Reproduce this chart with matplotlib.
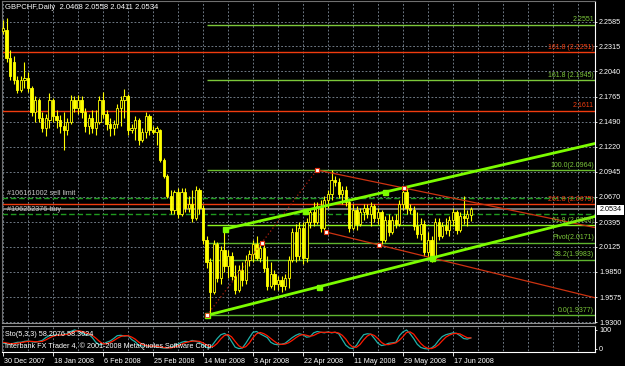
import numpy as np
import matplotlib.pyplot as plt
from matplotlib.patches import Rectangle
from matplotlib.transforms import blended_transform_factory, ScaledTranslation

plt.rcParams['font.family'] = ['Liberation Sans', 'DejaVu Sans']

# GBPCHF daily bars
opens = [2.2481, 2.2492, 2.2187, 2.2143, 2.1946, 2.1837, 2.1946, 2.1968, 2.1859, 2.1597,
         2.1728, 2.1531, 2.1422, 2.1510, 2.1728, 2.1553, 2.1510, 2.1444, 2.1400, 2.1488,
         2.1728, 2.1641, 2.1728, 2.1597, 2.1444, 2.1531, 2.1422, 2.1488, 2.1728, 2.1575,
         2.1466, 2.1422, 2.1466, 2.1641, 2.1728, 2.1772, 2.1400, 2.1422, 2.1510, 2.1291,
         2.1379, 2.1553, 2.1400, 2.1379, 2.1400, 2.1073, 2.0898, 2.0680, 2.0527, 2.0723,
         2.0483, 2.0723, 2.0549, 2.0592, 2.0439, 2.0745, 2.0549, 2.0199, 1.9959, 1.9631,
         2.0156, 1.9784, 2.0090, 1.9915, 2.0025, 1.9806, 1.9653, 1.9872, 1.9762, 1.9981,
         2.0046, 2.0156, 2.0003, 2.0112, 1.9893, 1.9697, 1.9828, 1.9719, 1.9762, 1.9697,
         1.9784, 1.9981, 2.0287, 2.0025, 2.0330, 2.0003, 2.0396, 2.0505, 2.0396, 2.0570,
         2.0330, 2.0636, 2.0702, 2.0854, 2.0833, 2.0702, 2.0745, 2.0614, 2.0330, 2.0527,
         2.0374, 2.0505, 2.0549, 2.0483, 2.0570, 2.0439, 2.0505, 2.0199, 2.0418, 2.0287,
         2.0418, 2.0374, 2.0592, 2.0723, 2.0549, 2.0527, 2.0352, 2.0265, 2.0374, 2.0068,
         2.0199, 2.0003, 2.0396, 2.0243, 2.0352, 2.0308, 2.0418, 2.0505, 2.0308, 2.0461,
         2.0439, 2.0468]
highs = [2.2602, 2.2623, 2.2274, 2.2208, 2.1990, 2.1990, 2.2143, 2.2034, 2.1881, 2.1772,
         2.1750, 2.1597, 2.1575, 2.1804, 2.1750, 2.1619, 2.1564, 2.1597, 2.1531, 2.1783,
         2.1772, 2.1783, 2.1772, 2.1641, 2.1575, 2.1619, 2.1619, 2.1772, 2.1815, 2.1619,
         2.1531, 2.1510, 2.1684, 2.1772, 2.1848, 2.1794, 2.1466, 2.1553, 2.1531, 2.1422,
         2.1597, 2.1575, 2.1444, 2.1444, 2.1411, 2.1095, 2.0920, 2.0745, 2.0745, 2.0767,
         2.0767, 2.0767, 2.0680, 2.0745, 2.0789, 2.0767, 2.0581, 2.0243, 2.0003, 2.0199,
         2.0177, 2.0134, 2.0287, 2.0090, 2.0068, 1.9926, 1.9926, 1.9959, 2.0035, 2.0090,
         2.0199, 2.0243, 2.0177, 2.0156, 2.0025, 1.9959, 1.9872, 1.9806, 1.9806, 1.9828,
         2.0025, 2.0330, 2.0374, 2.0396, 2.0396, 2.0439, 2.0549, 2.0614, 2.0614, 2.0636,
         2.0680, 2.0745, 2.0964, 2.0898, 2.0876, 2.0789, 2.0789, 2.0636, 2.0592, 2.0570,
         2.0549, 2.0592, 2.0592, 2.0614, 2.0592, 2.0549, 2.0527, 2.0461, 2.0483, 2.0461,
         2.0483, 2.0636, 2.0789, 2.0767, 2.0592, 2.0570, 2.0505, 2.0439, 2.0418, 2.0287,
         2.0243, 2.0439, 2.0439, 2.0396, 2.0439, 2.0461, 2.0549, 2.0527, 2.0505, 2.0680,
         2.0527, 2.0558]
lows = [2.2449, 2.2143, 2.1946, 2.1903, 2.1804, 2.1815, 2.1859, 2.1815, 2.1553, 2.1488,
        2.1488, 2.1379, 2.1335, 2.1422, 2.1488, 2.1422, 2.1368, 2.1182, 2.1346, 2.1466,
        2.1597, 2.1575, 2.1531, 2.1379, 2.1357, 2.1368, 2.1346, 2.1466, 2.1531, 2.1400,
        2.1335, 2.1346, 2.1422, 2.1444, 2.1531, 2.1346, 2.1368, 2.1291, 2.1237, 2.1269,
        2.1313, 2.1346, 2.1357, 2.1237, 2.1051, 2.0876, 2.0658, 2.0483, 2.0483, 2.0439,
        2.0461, 2.0505, 2.0505, 2.0396, 2.0418, 2.0483, 2.0156, 1.9893, 1.9377, 1.9610,
        1.9741, 1.9719, 1.9850, 1.9784, 1.9762, 1.9610, 1.9631, 1.9697, 1.9719, 1.9915,
        1.9959, 1.9981, 1.9959, 1.9850, 1.9653, 1.9675, 1.9653, 1.9653, 1.9631, 1.9653,
        1.9675, 1.9959, 1.9959, 1.9981, 1.9937, 1.9959, 2.0330, 2.0352, 2.0374, 2.0287,
        2.0308, 2.0549, 2.0636, 2.0789, 2.0658, 2.0592, 2.0570, 2.0287, 2.0308, 2.0308,
        2.0352, 2.0418, 2.0439, 2.0352, 2.0396, 2.0374, 2.0156, 2.0177, 2.0243, 2.0265,
        2.0330, 2.0352, 2.0527, 2.0483, 2.0483, 2.0308, 2.0221, 2.0199, 2.0025, 2.0003,
        1.9959, 1.9981, 2.0199, 2.0221, 2.0265, 2.0243, 2.0352, 2.0265, 2.0287, 2.0374,
        2.0352, 2.0411]
closes = [2.2514, 2.2187, 2.1990, 2.1946, 2.1837, 2.1946, 2.1968, 2.1859, 2.1597, 2.1728,
          2.1531, 2.1422, 2.1531, 2.1728, 2.1553, 2.1510, 2.1444, 2.1400, 2.1488, 2.1728,
          2.1641, 2.1728, 2.1597, 2.1444, 2.1531, 2.1422, 2.1488, 2.1728, 2.1575, 2.1466,
          2.1422, 2.1466, 2.1641, 2.1728, 2.1772, 2.1400, 2.1422, 2.1510, 2.1291, 2.1379,
          2.1553, 2.1400, 2.1379, 2.1422, 2.1073, 2.0898, 2.0680, 2.0527, 2.0723, 2.0483,
          2.0723, 2.0549, 2.0592, 2.0439, 2.0745, 2.0549, 2.0199, 1.9959, 1.9631, 2.0156,
          1.9784, 2.0090, 1.9915, 2.0025, 1.9806, 1.9653, 1.9872, 1.9762, 1.9981, 2.0046,
          2.0156, 2.0003, 2.0112, 1.9893, 1.9697, 1.9828, 1.9719, 1.9762, 1.9697, 1.9784,
          1.9981, 2.0287, 2.0025, 2.0330, 2.0003, 2.0396, 2.0505, 2.0396, 2.0570, 2.0330,
          2.0636, 2.0702, 2.0854, 2.0833, 2.0702, 2.0745, 2.0614, 2.0330, 2.0527, 2.0374,
          2.0505, 2.0549, 2.0483, 2.0570, 2.0439, 2.0505, 2.0199, 2.0418, 2.0287, 2.0418,
          2.0374, 2.0592, 2.0723, 2.0549, 2.0527, 2.0352, 2.0265, 2.0374, 2.0068, 2.0199,
          2.0003, 2.0396, 2.0243, 2.0352, 2.0308, 2.0418, 2.0505, 2.0308, 2.0461, 2.0439,
          2.0483, 2.0534]

# Stochastic(5,3,3) main and signal lines
sto_main = [30, 28, 25, 30, 35, 35, 40, 42, 38, 35, 40, 45, 60, 70, 72, 75, 72, 78, 80,
            92, 100, 95, 85, 75, 78, 60, 35, 22, 25, 35, 42, 55, 70, 72, 68, 70, 50, 38,
            20, 15, 18, 12, 15, 10, 8, 5, 4, 10, 15, 25, 35, 40, 38, 45, 40, 35, 20, 8, 5,
            30, 55, 75, 82, 70, 40, 10, 2, 5, 30, 60, 88, 92, 80, 70, 60, 35, 25, 22, 25, 30,
            45, 60, 72, 80, 75, 62, 65, 85, 92, 88, 85, 90, 85, 88, 80, 50, 20, 5, 2, 20,
            50, 75, 80, 78, 55, 30, 18, 22, 30, 32, 35, 70, 90, 100, 80, 55, 25, 8, 2, 0, 5,
            20, 45, 65, 75, 80, 85, 82, 70, 55, 52, 58.2]
sto_signal = [35, 32, 28, 28, 30, 33, 37, 40, 40, 38, 38, 40, 48, 58, 67, 72, 73, 75, 77,
              83, 92, 96, 93, 85, 80, 71, 57, 40, 27, 27, 34, 44, 56, 66, 70, 70, 63, 52,
              36, 24, 18, 15, 15, 13, 11, 8, 6, 6, 10, 16, 25, 33, 38, 41, 42, 40, 32, 21, 11,
              14, 30, 53, 71, 76, 64, 40, 17, 6, 12, 32, 59, 80, 87, 81, 70, 55, 40, 27, 24, 26,
              33, 45, 59, 71, 76, 72, 67, 71, 81, 88, 88, 88, 87, 88, 84, 72, 52, 25, 9, 9,
              24, 48, 68, 78, 71, 54, 34, 23, 23, 28, 32, 46, 65, 87, 90, 78, 53, 29, 12, 3, 2,
              9, 23, 43, 62, 73, 80, 82, 79, 69, 59, 58.4]

price_ticks = [2.2585, 2.2315, 2.2040, 2.1765, 2.1490, 2.1220, 2.0945, 2.0670,
               2.0395, 2.0125, 1.9850, 1.9575, 1.9300]
date_labels = ['30 Dec 2007', '18 Jan 2008', '6 Feb 2008', '25 Feb 2008', '14 Mar 2008',
               '3 Apr 2008', '22 Apr 2008', '11 May 2008', '29 May 2008', '17 Jun 2008']
date_bars = [0, 14, 28, 42, 56, 70, 84, 98, 112, 126]

# fibo from the March low (green) and the red levels
fib_start = 57.1
fib_levels = [2.2551, 2.1945, 2.0964, 2.0358, 2.0171, 1.9983, 1.9377]
fib_texts = ['2.2551', '161.8 (2.1945)', '100.0(2.0964)', '61.8 (2.0358)',
             'Pivot(2.0171)', '38.2(1.9983)', '0.0(1.9377)']
red_levels = [2.2251, 2.1611, 2.0592]
red_texts = ['161.8 (2.2251)', '2.1611', '261.8 (2.0675)']
sell_limit = 2.0661
buy_level = 2.0480
bid = 2.0534

# trend lines as (bar, price) anchor pairs
green_low = [(57.1, 1.9377), (120.1, 2.0003)]
green_high = [(62.2, 2.0319), (107.0, 2.0723)]
red_high = [(87.9, 2.0964), (112.3, 2.0767)]
red_low = [(90.4, 2.0287), (105.3, 2.0145)]
fibo_diag = [(57.1, 1.9377), (87.9, 2.0964)]

W, H = 625, 366
XMIN, XMAX = -0.28, 165.78


def box(x0, y0, x1, y1):
    return [x0 / W, 1 - y1 / H, (x1 - x0) / W, (y1 - y0) / H]


def ray(ax, a, b, **kw):
    slope = (b[1] - a[1]) / (b[0] - a[0])
    ax.plot([a[0], XMAX], [a[1], a[1] + slope * (XMAX - a[0])], **kw)


fig = plt.figure(figsize=(6.25, 3.66), dpi=100, facecolor='black')
ax = fig.add_axes(box(2, 1, 595, 323), facecolor='black')
ax2 = fig.add_axes(box(2, 326, 595, 352), facecolor='black')

grid_kw = dict(color='#7f8b98', lw=0.6, linestyles=(0, (2.2, 2.2)), zorder=0)
grid_bars = np.arange(0, 166, 7)
ax.hlines(price_ticks, XMIN, XMAX, **grid_kw)
ax.vlines(grid_bars, 1.9, 2.3, **grid_kw)
ax2.vlines(grid_bars, -50, 150, **grid_kw)

# horizontal levels
ax.hlines(red_levels, XMIN, XMAX, color='#f03c0f', lw=1.0, zorder=1)
fib_colors = ['#7cc83a', '#7cc83a', '#6cbf2e', '#8cf020', '#5fb52f', '#5fb52f', '#5fb52f']
ax.hlines(fib_levels, fib_start, XMAX, colors=fib_colors, lw=1.0, zorder=1)
ax.hlines([sell_limit, buy_level], XMIN, XMAX, color='#1f9a1f', lw=1.0,
          linestyles=(0, (4, 2)), zorder=1)
ax.axhline(bid, color='#8c8c8c', lw=1.2, zorder=1)

# candles
x = np.arange(len(closes))
o, hi, lo, c = (np.array(v) for v in (opens, highs, lows, closes))
ax.vlines(x, lo, hi, color='#ffff00', lw=0.8, zorder=2)
up = c >= o
body = np.maximum(np.abs(c - o), 0.0005)
ax.bar(x[up], body[up], bottom=o[up], width=0.62, color='black',
       edgecolor='#ffff00', lw=0.6, zorder=3)
ax.bar(x[~up], body[~up], bottom=c[~up], width=0.62, color='#ffff00',
       edgecolor='#ffff00', lw=0.6, zorder=3)

# trend lines and channel
ray(ax, *red_high, color='#cc3311', lw=0.9, zorder=4)
ray(ax, *red_low, color='#cc3311', lw=0.9, zorder=4)
ax.plot(*zip(*fibo_diag), color='#b02010', lw=0.9, ls=(0, (1, 2)), zorder=4)
ray(ax, *green_low, color='#7cfc00', lw=2.0, zorder=5)
ray(ax, *green_high, color='#7cfc00', lw=2.0, zorder=5)

green_marks = green_low + [((green_low[0][0] + green_low[1][0]) / 2, (green_low[0][1] + green_low[1][1]) / 2)]
green_marks += green_high + [((green_high[0][0] + green_high[1][0]) / 2, (green_high[0][1] + green_high[1][1]) / 2)]
ax.plot(*zip(*green_marks), ls='none', marker='s', ms=3.6, color='#7cfc00', zorder=6)
red_marks = red_high + red_low + [fibo_diag[1],
                                  ((fibo_diag[0][0] + fibo_diag[1][0]) / 2, (fibo_diag[0][1] + fibo_diag[1][1]) / 2)]
ax.plot(*zip(*red_marks), ls='none', marker='s', ms=2.8, mfc='white', mec='#e03010',
        mew=0.8, zorder=6)
ax.plot([fibo_diag[0][0]], [fibo_diag[0][1]], ls='none', marker='s', ms=2.4, mfc='white',
        mec='#e03010', mew=0.6, zorder=7)

# level labels at the right end
lab_tr = blended_transform_factory(ax.transAxes, ax.transData)
for lvl, txt in zip(fib_levels, fib_texts):
    ax.annotate(txt, xy=(0.998, lvl), xycoords=lab_tr, xytext=(0, 1), textcoords='offset points',
                ha='right', va='bottom', fontsize=5, color='#7cc83a', zorder=8)
for lvl, txt in zip(red_levels, red_texts):
    ax.annotate(txt, xy=(0.998, lvl), xycoords=lab_tr, xytext=(0, 1), textcoords='offset points',
                ha='right', va='bottom', fontsize=5, color='#f03c0f', zorder=8)

ax.set_xlim(XMIN, XMAX)
ax.set_ylim(1.9293, 2.2809)
ax.set_yticks(price_ticks)
ax.set_yticklabels([f'{p:.4f}' for p in price_ticks])
ax.yaxis.tick_right()
ax.tick_params(axis='y', colors='white', labelsize=5.2, length=1.5, width=0.6, pad=1.5)
ax.tick_params(axis='x', bottom=False, labelbottom=False)
for side, col in (('right', 'white'), ('left', '#707070'), ('top', '#707070'), ('bottom', '#909090')):
    ax.spines[side].set_color(col)
    ax.spines[side].set_linewidth(0.8)

# stochastic panel
ax2.plot(x, sto_main, color='#20b2aa', lw=0.9)
ax2.plot(x, sto_signal, color='#ff1a00', lw=0.9)
ax2.set_xlim(XMIN, XMAX)
ax2.set_ylim(-16, 121)
ax2.set_yticks([0, 100])
ax2.set_yticklabels(['0', '100'])
ax2.yaxis.tick_right()
ax2.tick_params(axis='y', colors='white', labelsize=5.2, length=1.5, width=0.6, pad=1.5)
ax2.set_xticks(date_bars)
ax2.set_xticklabels(date_labels)
ax2.tick_params(axis='x', colors='white', labelsize=5.2, length=3, width=0.6, pad=1.0)
for lbl in ax2.get_xticklabels():
    lbl.set_horizontalalignment('left')
    lbl.set_transform(lbl.get_transform() + ScaledTranslation(1.5 / 100, 0, fig.dpi_scale_trans))
for side, col in (('right', 'white'), ('left', '#707070'), ('top', '#909090'), ('bottom', 'white')):
    ax2.spines[side].set_color(col)
    ax2.spines[side].set_linewidth(0.8)

# texts
fig.text(5 / W, 1 - 7.5 / H, 'GBPCHF,Daily  2.0468 2.0558 2.0411 2.0534', color='white',
         fontsize=5.5, va='center', ha='left')
fig.text(7 / W, 1 - 193.5 / H, '#106161002 sell limit', color='#c8c8c8', fontsize=5.2, va='center')
fig.text(7 / W, 1 - 209.5 / H, '#106252376 buy', color='#c8c8c8', fontsize=5.2, va='center')
fig.text(5 / W, 1 - 334 / H, 'Sto(5,3,3) 58.2076 58.3624', color='white', fontsize=5.2, va='center')
fig.text(5 / W, 1 - 346 / H, 'Interbank FX Trader 4, \u00a9 2001-2008 MetaQuotes Software Corp.',
         color='white', fontsize=5.2, va='center')

# current bid box on the price scale
fig.patches.append(Rectangle((597 / W, 1 - 214.5 / H), 27 / W, 10 / H, transform=fig.transFigure,
                             facecolor='white', edgecolor='none', zorder=5))
fig.text(610.5 / W, 1 - 209.5 / H, '2.0534', color='black', fontsize=5.2, ha='center', va='center',
         zorder=6)

fig.savefig('out.png', dpi=100, facecolor='black')
